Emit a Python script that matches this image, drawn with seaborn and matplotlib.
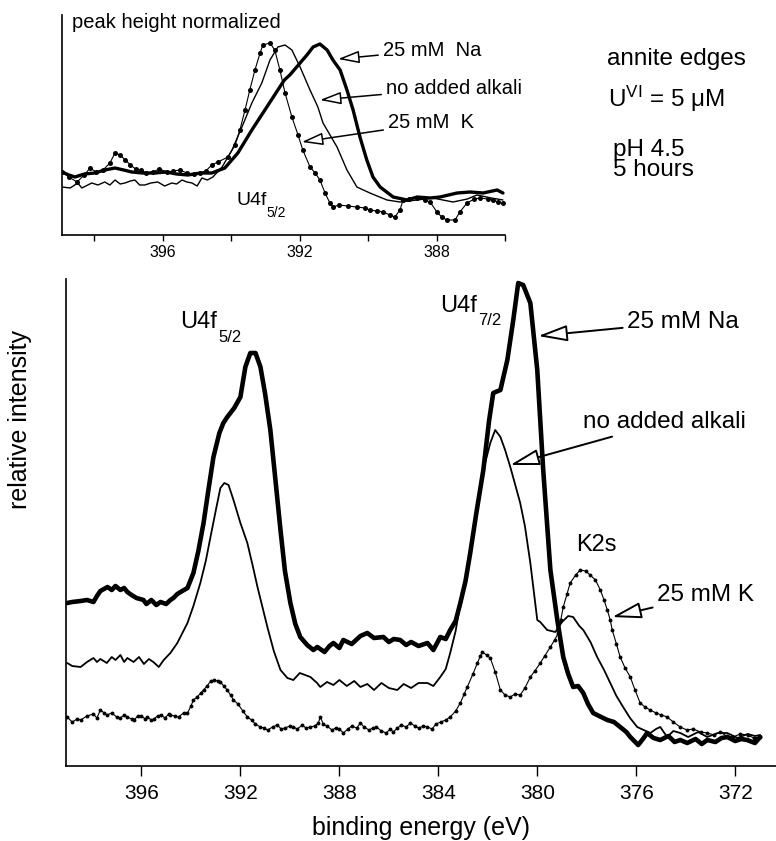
import numpy as np
import pandas as pd
import matplotlib
matplotlib.use("Agg")
import matplotlib.pyplot as plt
import seaborn as sns

sns.set_theme(style="white")
plt.rcParams["font.family"] = ["Liberation Sans", "DejaVu Sans"]
plt.rcParams["mathtext.default"] = "regular"
plt.rcParams["text.color"] = "black"
plt.rcParams["axes.labelcolor"] = "black"
plt.rcParams["xtick.color"] = "black"

# ---------------- U4f spectra, full range (binding energy in eV, counts arb.) ----------------
na_ev = [399.0, 398.8, 398.46, 398.2, 397.94, 397.8, 397.66, 397.37, 397.2, 397.05,
         396.85, 396.7, 396.57, 396.4, 396.2, 395.92, 395.8, 395.6, 395.4, 395.23,
         395.0, 394.83, 394.71, 394.55, 394.35, 394.14, 393.9, 393.7, 393.49, 393.3,
         393.09, 392.85, 392.69, 392.53, 392.25, 392.0, 391.8, 391.6, 391.39, 391.19,
         391.0, 390.79, 390.6, 390.38, 390.2, 389.98, 389.78, 389.58, 389.3, 389.05,
         388.89, 388.6, 388.4, 388.24, 388.0, 387.84, 387.5, 387.15, 386.87, 386.6,
         386.22, 386.0, 385.8, 385.54, 385.3, 385.1, 384.8, 384.44, 384.2, 383.92,
         383.7, 383.52, 383.3, 383.11, 382.9, 382.71, 382.45, 382.18, 381.95, 381.78,
         381.49, 381.21, 380.97, 380.77, 380.57, 380.28, 380.0, 379.76, 379.47, 379.19,
         378.95, 378.75, 378.55, 378.35, 378.14, 377.95, 377.74, 377.5, 377.17, 376.9,
         376.65, 376.4, 376.24, 375.92, 375.7, 375.56, 375.3, 375.03, 374.7, 374.45,
         374.22, 373.94, 373.6, 373.35, 373.13, 372.8, 372.55, 372.32, 372.0, 371.75,
         371.52, 371.2, 370.99]
na_cnt = [163, 164, 165, 166, 164, 170, 175, 179, 176, 180,
          176, 178, 174, 171, 168, 166, 162, 166, 161, 164,
          162, 166, 168, 172, 175, 178, 193, 215, 243, 275,
          309, 333, 343, 349, 358, 369, 399, 413, 413, 399,
          372, 336, 290, 236, 195, 163, 142, 129, 121, 116,
          119, 114, 120, 123, 118, 126, 122, 130, 133, 128,
          129, 124, 127, 126, 121, 124, 120, 123, 116, 129,
          127, 136, 145, 163, 185, 213, 255, 296, 345, 373,
          376, 406, 446, 483, 481, 463, 396, 296, 196, 146,
          109, 92, 79, 80, 73, 62, 53, 50, 46, 44,
          39, 34, 29, 21, 28, 33, 28, 26, 30, 24,
          26, 23, 27, 22, 26, 24, 28, 29, 25, 27,
          26, 23, 29]

none_ev = [399.0, 398.8, 398.46, 398.2, 397.94, 397.8, 397.66, 397.4, 397.2, 397.05,
           396.85, 396.7, 396.57, 396.32, 396.1, 395.9, 395.7, 395.52, 395.3, 395.1,
           394.83, 394.55, 394.14, 393.9, 393.62, 393.4, 393.21, 393.0, 392.81, 392.65,
           392.48, 392.28, 392.0, 391.72, 391.5, 391.31, 391.1, 390.91, 390.65, 390.38,
           390.1, 389.86, 389.6, 389.17, 388.9, 388.77, 388.5, 388.24, 388.0, 387.7,
           387.4, 387.15, 386.87, 386.6, 386.3, 386.0, 385.66, 385.4, 385.1, 384.8,
           384.44, 384.2, 383.92, 383.7, 383.52, 383.3, 383.11, 382.85, 382.59, 382.38,
           382.18, 381.9, 381.7, 381.49, 381.3, 381.09, 380.9, 380.69, 380.5, 380.28,
           380.0, 379.88, 379.6, 379.27, 379.0, 378.75, 378.55, 378.3, 378.14, 377.85,
           377.58, 377.3, 377.05, 376.8, 376.53, 376.25, 375.96, 375.7, 375.43, 375.2,
           375.03, 374.75, 374.5, 374.22, 373.9, 373.5, 373.13, 372.7, 372.32, 371.9,
           371.5, 371.2, 370.99]
none_cnt = [103, 100, 99, 104, 108, 104, 107, 103, 109, 106,
            111, 104, 108, 104, 109, 102, 107, 104, 99, 106,
            113, 123, 143, 160, 183, 205, 229, 255, 278, 283,
            281, 266, 243, 223, 200, 179, 158, 139, 115, 96,
            88, 86, 93, 89, 83, 79, 84, 81, 86, 80,
            85, 79, 82, 76, 83, 78, 76, 82, 78, 83,
            83, 80, 89, 97, 113, 135, 163, 195, 229, 262,
            296, 323, 336, 329, 316, 299, 282, 263, 240, 203,
            146, 144, 136, 134, 144, 150, 149, 140, 136, 124,
            109, 96, 83, 70, 59, 48, 39, 36, 33, 37,
            39, 29, 35, 33, 29, 34, 29, 33, 33, 28,
            32, 30, 31]

k_ev = [399.0, 398.8, 398.6, 398.46, 398.2, 397.94, 397.8, 397.66, 397.5, 397.4,
        397.2, 397.0, 396.85, 396.7, 396.57, 396.4, 396.3, 396.15, 396.0, 395.85,
        395.76, 395.6, 395.5, 395.35, 395.2, 395.05, 394.9, 394.83, 394.65, 394.5,
        394.3, 394.14, 394.0, 393.9, 393.75, 393.6, 393.49, 393.35, 393.2, 393.05,
        392.92, 392.81, 392.67, 392.53, 392.4, 392.28, 392.1, 391.9, 391.72, 391.55,
        391.4, 391.19, 391.05, 390.9, 390.7, 390.51, 390.35, 390.2, 390.0, 389.86,
        389.7, 389.5, 389.35, 389.17, 389.0, 388.85, 388.77, 388.65, 388.5, 388.3,
        388.15, 388.0, 387.84, 387.65, 387.5, 387.3, 387.15, 387.0, 386.8, 386.65,
        386.5, 386.3, 386.1, 385.95, 385.82, 385.65, 385.5, 385.3, 385.13, 384.95,
        384.8, 384.6, 384.44, 384.25, 384.1, 383.9, 383.7, 383.52, 383.3, 383.11,
        382.95, 382.83, 382.6, 382.42, 382.3, 382.22, 382.05, 381.9, 381.7, 381.49,
        381.3, 381.09, 380.9, 380.69, 380.5, 380.28, 380.1, 379.88, 379.7, 379.47,
        379.3, 379.15, 379.05, 378.95, 378.8, 378.67, 378.45, 378.26, 378.05, 377.86,
        377.65, 377.45, 377.3, 377.17, 377.05, 376.97, 376.8, 376.65, 376.45, 376.24,
        376.05, 375.84, 375.65, 375.43, 375.2, 374.98, 374.75, 374.5, 374.22, 373.95,
        373.7, 373.4, 373.13, 372.85, 372.6, 372.35, 372.08, 371.8, 371.5, 371.25,
        370.99]
k_cnt = [49, 44, 47, 46, 50, 52, 48, 56, 53, 51,
         53, 49, 48, 51, 49, 47, 46, 50, 50, 47,
         49, 46, 47, 50, 51, 48, 52, 51, 50, 49,
         53, 53, 60, 66, 69, 73, 76, 80, 85, 86,
         85, 84, 80, 76, 71, 66, 62, 55, 49, 46,
         42, 39, 38, 36, 39, 41, 37, 38, 40, 39,
         37, 41, 38, 39, 40, 43, 49, 42, 40, 36,
         38, 37, 33, 37, 40, 38, 43, 39, 36, 38,
         39, 35, 33, 37, 34, 38, 41, 39, 43, 40,
         38, 40, 39, 37, 42, 44, 46, 49, 55, 63,
         72, 79, 92, 103, 110, 114, 111, 108, 94, 76,
         71, 69, 72, 71, 78, 89, 95, 103, 110, 119,
         126, 133, 146, 159, 172, 183, 191, 196, 195, 191,
         186, 176, 166, 156, 146, 136, 122, 109, 98, 89,
         76, 63, 59, 56, 53, 51, 49, 44, 39, 36,
         37, 34, 33, 31, 34, 30, 29, 32, 31, 28,
         29]

# ---------------- U4f5/2 region, peak height normalized ----------------
na5_ev = [398.95, 398.75, 398.57, 398.3, 397.99, 397.7, 397.40, 397.15, 396.91, 396.6,
          396.24, 395.9, 395.6, 395.27, 394.9, 394.57, 394.19, 393.81, 393.40, 393.02,
          392.64, 392.45, 392.29, 391.99, 391.79, 391.61, 391.41, 391.20, 391.03, 390.82,
          390.62, 390.44, 390.24, 390.04, 389.86, 389.65, 389.27, 388.86, 388.57, 388.19,
          387.90, 387.40, 387.02, 386.64, 386.23, 386.06]
na5_cnt = [63, 60, 58, 61, 62, 65, 67, 65, 63, 62,
           62, 63, 61, 60, 62, 62, 67, 82, 105, 125,
           145, 155, 160, 172, 180, 188, 191, 185, 175, 165,
           145, 125, 98, 75, 58, 48, 38, 35, 38, 37,
           38, 42, 43, 42, 45, 42]

none5_ev = [398.95, 398.71, 398.49, 398.37, 398.08, 397.9, 397.70, 397.55, 397.40, 397.25,
            397.11, 396.95, 396.82, 396.68, 396.53, 396.35, 396.15, 395.95, 395.74, 395.6,
            395.44, 395.3, 395.15, 395.0, 394.86, 394.7, 394.54, 394.27, 393.98, 393.69,
            393.40, 393.11, 392.87, 392.64, 392.43, 392.23, 391.99, 391.70, 391.47, 391.32,
            390.91, 390.62, 390.33, 389.95, 389.45, 389.07, 388.57, 388.11, 387.52, 387.1,
            386.82, 386.4, 386.06]
none5_cnt = [48, 47, 52, 47, 52, 50, 53, 50, 55, 51,
             52, 54, 55, 50, 50, 52, 53, 49, 52, 51,
             55, 53, 52, 49, 57, 55, 58, 68, 85, 108,
             132, 152, 175, 188, 190, 185, 168, 145, 128, 112,
             88, 65, 48, 42, 35, 33, 35, 37, 33, 36,
             40, 37, 35]

k5_ev = [398.95, 398.75, 398.51, 398.30, 398.13, 397.95, 397.75, 397.55, 397.40, 397.25,
         397.10, 396.95, 396.80, 396.65, 396.50, 396.30, 396.10, 395.88, 395.70, 395.50,
         395.30, 395.10, 394.92, 394.75, 394.57, 394.39, 394.10, 393.89, 393.75, 393.60,
         393.46, 393.31, 393.16, 393.08, 392.87, 392.73, 392.58, 392.43, 392.23, 392.05,
         391.91, 391.70, 391.55, 391.41, 391.26, 391.12, 391.03, 390.85, 390.60, 390.33,
         390.10, 389.95, 389.75, 389.57, 389.36, 389.22, 389.07, 388.98, 388.80, 388.57,
         388.35, 388.19, 387.99, 387.85, 387.70, 387.46, 387.32, 387.11, 386.90, 386.73,
         386.50, 386.35, 386.20, 386.06]
k5_cnt = [63, 58, 53, 60, 67, 63, 65, 72, 82, 80,
          75, 70, 66, 65, 62, 63, 66, 63, 64, 65,
          62, 61, 62, 64, 70, 73, 78, 90, 105, 125,
          145, 165, 182, 190, 192, 185, 165, 142, 118, 100,
          85, 68, 62, 55, 42, 32, 28, 30, 29, 28,
          27, 25, 24, 23, 20, 18, 25, 35, 36, 37,
          35, 33, 23, 18, 15, 15, 23, 32, 36, 37,
          36, 35, 33, 32]

main_ticks = [396, 392, 388, 384, 380, 376, 372]
inset_ticks = [398, 396, 394, 392, 390, 388, 386]
inset_labeled = [396, 392, 388]

# ---------------- figure layout (pixel based, 776 x 841) ----------------
W, H = 776, 841
fig = plt.figure(figsize=(W / 100, H / 100), dpi=100)
ax = fig.add_axes([66 / W, (H - 766) / H, (W - 66) / W, 487 / H])
ins = fig.add_axes([62 / W, (H - 235) / H, 443 / W, 220 / H])


def trace(axis, ev, cnt, lw, marker=None, ms=0):
    df = pd.DataFrame({"eV": ev, "counts": cnt})
    kw = {}
    if marker:
        kw = dict(marker=marker, markersize=ms, markeredgewidth=0,
                  markerfacecolor="black")
    sns.lineplot(data=df, x="eV", y="counts", ax=axis, color="black",
                 linewidth=lw, sort=False, estimator=None, legend=False, **kw)


trace(ax, k_ev, k_cnt, 0.8, marker="o", ms=2.8)
trace(ax, none_ev, none_cnt, 1.3)
trace(ax, na_ev, na_cnt, 3.3)

trace(ins, k5_ev, k5_cnt, 0.8, marker="o", ms=3.6)
trace(ins, none5_ev, none5_cnt, 1.0)
trace(ins, na5_ev, na5_cnt, 2.4)

for a in (ax, ins):
    a.spines[["top", "right"]].set_visible(False)
    for s in ("left", "bottom"):
        a.spines[s].set_color("black")
        a.spines[s].set_linewidth(1.2)
    a.set_yticks([])
    a.set_ylabel("")
    a.set_xlabel("")

# main axes
ax.set_xlim(399.05, 370.35)
ax.set_ylim(0, 487)
ax.set_xticks(main_ticks)
ax.set_xticklabels([str(t) for t in main_ticks])
ax.tick_params(axis="x", bottom=True, direction="out", length=7, width=1,
               color="black", pad=6, labelsize=15, labelcolor="black")
ax.set_xlabel("binding energy (eV)", fontsize=18, color="black")
ax.xaxis.set_label_coords(0.5, -0.102)
ax.set_ylabel("relative intensity", fontsize=18, color="black")
ax.yaxis.set_label_coords(-0.048, 0.712)

# inset axes
ins.set_xlim(398.95, 386.0)
ins.set_ylim(0, 220)
ins.set_xticks(inset_ticks)
ins.set_xticklabels([str(t) if t in inset_labeled else "" for t in inset_ticks])
ins.tick_params(axis="x", bottom=True, direction="out", length=4, width=1,
                color="black", pad=3, labelsize=11.5, labelcolor="black")
ins.text(0.023, 1.01, "peak height normalized", transform=ins.transAxes,
         ha="left", va="top", fontsize=14.5, color="black")

big_head = dict(arrowstyle="-|>,head_length=1.8,head_width=0.5", mutation_scale=10,
                fc="white", ec="black", lw=1.4, shrinkA=1, shrinkB=0)
small_head = dict(arrowstyle="-|>,head_length=1.3,head_width=0.38", mutation_scale=10,
                  fc="white", ec="black", lw=1.1, shrinkA=1, shrinkB=0)

# main annotations
ax.annotate("25 mM Na", xy=(379.96, 430), xytext=(376.36, 444),
            ha="left", va="center", fontsize=17.5, arrowprops=big_head)
ax.annotate("no added alkali", xy=(381.09, 301), xytext=(378.14, 344),
            ha="left", va="center", fontsize=17.5, arrowprops=big_head)
ax.annotate("25 mM K", xy=(376.97, 149), xytext=(375.15, 171),
            ha="left", va="center", fontsize=17.5, arrowprops=big_head)
ax.text(377.62, 221, "K2s", ha="center", va="center", fontsize=17)

for ev0, c0, sub, dy in ((394.42, 438, "5/2", -10.0), (383.92, 454, "7/2", -9.4)):
    ax.text(ev0, c0, "U4f", ha="left", va="baseline", fontsize=17)
    ax.annotate(sub, xy=(ev0, c0), xytext=(27, dy), textcoords="offset points",
                ha="left", va="baseline", fontsize=12)

# inset annotations
ins.annotate("25 mM  Na", xy=(390.88, 176), xytext=(389.57, 185),
             ha="left", va="center", fontsize=14.5, arrowprops=small_head)
ins.annotate("no added alkali", xy=(391.41, 135), xytext=(389.48, 147),
             ha="left", va="center", fontsize=14.5, arrowprops=small_head,
             annotation_clip=False)
ins.annotate("25 mM  K", xy=(391.94, 93), xytext=(389.42, 112),
             ha="left", va="center", fontsize=14.5, arrowprops=small_head)
ins.text(393.84, 30, "U4f", ha="left", va="baseline", fontsize=14)
ins.annotate("5/2", xy=(393.84, 30), xytext=(21.6, -8.6), textcoords="offset points",
             ha="left", va="baseline", fontsize=10)

# sample conditions
fig.text(607 / W, 1 - 65 / H, "annite edges", ha="left", va="baseline", fontsize=17.5)
fig.text(608 / W, 1 - 107 / H, r"U$^{VI}$ = 5 μM", ha="left", va="baseline", fontsize=17.5)
fig.text(613 / W, 1 - 156 / H, "pH 4.5", ha="left", va="baseline", fontsize=17.5)
fig.text(613 / W, 1 - 176 / H, "5 hours", ha="left", va="baseline", fontsize=17.5)

fig.savefig("out.png", dpi=100, facecolor="white")
